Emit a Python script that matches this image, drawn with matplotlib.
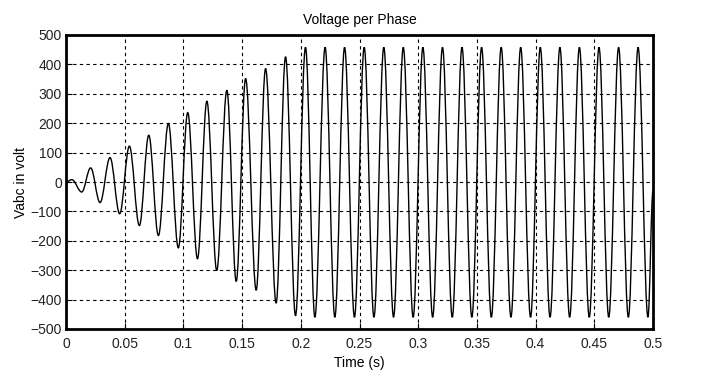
import matplotlib.pyplot as plt
from matplotlib.path import Path
from matplotlib.patches import PathPatch

# extrema of the phase voltage (time in s, volts)
t_ext = [0.0, 0.005, 0.0134, 0.021, 0.029, 0.0375, 0.0457, 0.054, 0.0625, 0.0705,
         0.0787, 0.0872, 0.0957, 0.1037, 0.112, 0.120, 0.1284, 0.137, 0.145, 0.153,
         0.162, 0.170, 0.179, 0.187, 0.1955, 0.204, 0.212, 0.2207, 0.229, 0.2373,
         0.2457, 0.254, 0.2623, 0.2707, 0.279, 0.2873, 0.2957, 0.304, 0.3123, 0.3207,
         0.329, 0.3373, 0.3457, 0.354, 0.3623, 0.3707, 0.379, 0.3873, 0.3957, 0.404,
         0.4123, 0.4207, 0.429, 0.4373, 0.4457, 0.454, 0.4623, 0.4707, 0.479, 0.4873,
         0.4957, 0.5]
v_ext = [0, 8, -34, 48, -70, 83, -108, 122, -148, 159,
         -182, 199, -224, 236, -261, 275, -301, 312, -338, 352,
         -368, 386, -412, 426, -455, 458, -460, 458, -460, 458,
         -460, 458, -460, 458, -460, 458, -460, 458, -460, 458,
         -460, 458, -460, 458, -460, 458, -460, 458, -460, 458,
         -460, 458, -460, 458, -460, 458, -460, 458, -460, 458,
         -460, -30]

x_ticks = [0, 0.05, 0.1, 0.15, 0.2, 0.25, 0.3, 0.35, 0.4, 0.45, 0.5]
x_labels = ['0', '0.05', '0.1', '0.15', '0.2', '0.25', '0.3', '0.35', '0.4', '0.45', '0.5']
y_ticks = [-500, -400, -300, -200, -100, 0, 100, 200, 300, 400, 500]

plt.rcParams['font.family'] = ['Liberation Sans', 'DejaVu Sans']
fs = 10

fig = plt.figure(figsize=(7.08, 3.76), dpi=100)
ax = fig.add_axes([66 / 708, 47 / 376, 587 / 708, 294 / 376])

# smooth curve through the extrema: cubic segments with flat tangents at each peak
k = 0.365
verts = [(t_ext[0], v_ext[0])]
codes = [Path.MOVETO]
for i in range(1, len(t_ext)):
    dt = t_ext[i] - t_ext[i - 1]
    verts += [(t_ext[i - 1] + k * dt, v_ext[i - 1]),
              (t_ext[i] - k * dt, v_ext[i]),
              (t_ext[i], v_ext[i])]
    codes += [Path.CURVE4] * 3
ax.add_patch(PathPatch(Path(verts, codes), fill=False, edgecolor='black',
                       linewidth=1.0, zorder=3))

ax.set_xlim(0, 0.5)
ax.set_ylim(-500, 500)
ax.set_xticks(x_ticks)
ax.set_xticklabels(x_labels)
ax.set_yticks(y_ticks)
ax.tick_params(direction='in', length=4, labelsize=fs, colors='black', labelcolor='#222222')
ax.tick_params(axis='x', pad=6)
ax.tick_params(axis='y', pad=3)
ax.grid(True, color='black', linestyle=(0, (3, 3)), linewidth=0.8)
for s in ax.spines.values():
    s.set_linewidth(2.0)
    s.set_color('black')

ax.set_title('Voltage per Phase', fontsize=fs, pad=8)
ax.set_xlabel('Time (s)', fontsize=fs, labelpad=3)
ax.set_ylabel('Vabc in volt', fontsize=fs, labelpad=2)

fig.savefig('out.png', dpi=100, facecolor='white')
